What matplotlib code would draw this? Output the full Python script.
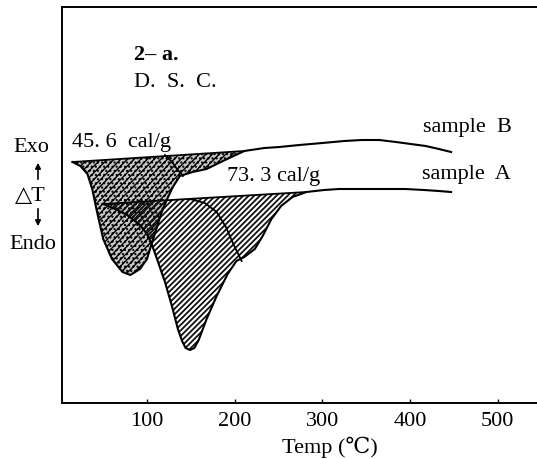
import matplotlib
matplotlib.use("Agg")
import matplotlib.pyplot as plt
import numpy as np

plt.rcParams['font.family'] = ['Liberation Serif', 'DejaVu Serif', 'DejaVu Sans', 'Noto Sans CJK JP']

# ---- data (temperature in degC, signal in arbitrary units, Exo up) ----
tB = [15, 24, 32, 37.5, 43, 50, 60, 72, 81, 92, 100, 104.5, 110, 116, 123, 129.5, 137.5,
      152, 168, 189, 211, 234, 251, 274, 300, 325, 345, 365, 384, 401, 418, 433, 447]
yB = [241, 237, 229, 214, 191, 164, 144, 131, 128, 134, 144, 157, 172, 189, 204, 216, 227,
      231, 234, 243, 252, 255, 256, 258, 260, 262, 263, 263, 261, 259, 257, 254, 251]
peakB_end = 20   # index where endotherm of sample B returns to baseline

tA = [50, 63.6, 77.3, 92, 100, 105.7, 111.4, 120.5, 128.4, 135.2, 140, 144, 149, 154, 159, 168, 179.5,
      192, 202, 211, 223, 232, 242, 253, 266, 282, 302, 319, 353, 395, 416, 433, 447]
yA = [199, 194, 188, 178, 169, 158, 144, 121, 97, 74, 62, 55, 53, 55, 63, 84, 107,
      129, 142, 146, 154, 167, 184, 197, 206, 211, 213, 214, 214, 214, 213, 212, 211]
peakA_end = 25

# component (deconvolution) boundaries
tB_comp = [120.5, 128.4, 135.2, 141]
yB_comp = [248, 241, 233, 227]
tA_comp = [149, 166, 179.5, 190, 199, 208]
yA_comp = [204, 200, 191, 176, 158, 142]

xticks = [100, 200, 300, 400, 500]
heatB = "45. 6  cal/g"
heatA = "73. 3 cal/g"

W, H = 537, 460
fig = plt.figure(figsize=(W / 100, H / 100), dpi=100)
ax = fig.add_axes([62 / W, (H - 404) / H, 1 - 62 / W, (404 - 8) / H])
ax.set_xlim(3, 545)
ax.set_ylim(0, 396)

tB = np.array(tB); yB = np.array(yB)
tA = np.array(tA); yA = np.array(yA)

# sample B peak area
tb = tB[:peakB_end + 1]; yb = yB[:peakB_end + 1]
baseB = np.interp(tb, [tb[0], tb[-1]], [yb[0], yb[-1]])
with plt.rc_context({'hatch.linewidth': 1.0}):
    ax.fill_between(tb, yb, baseB, facecolor='#c8c8c8', edgecolor='black', hatch='/////....', lw=0)
ax.plot([tb[0], tb[-1]], [yb[0], yb[-1]], color='black', lw=1.3)

# sample A peak area
ta = tA[:peakA_end + 1]; ya = yA[:peakA_end + 1]
baseA = np.interp(ta, [ta[0], ta[-1]], [ya[0], ya[-1]])
with plt.rc_context({'hatch.linewidth': 1.3}):
    ax.fill_between(ta, ya, baseA, facecolor='none', edgecolor='#111111', hatch='//////', lw=0)
ax.plot([ta[0], ta[-1]], [ya[0], ya[-1]], color='black', lw=1.3)

ax.plot(tB, yB, color='black', lw=1.5)
ax.plot(tA, yA, color='black', lw=1.5)
ax.plot(tB_comp, yB_comp, color='black', lw=1.3)
ax.plot(tA_comp, yA_comp, color='black', lw=1.3)

# axes styling
for s in ['top', 'left', 'bottom']:
    ax.spines[s].set_linewidth(1.4)
ax.spines['right'].set_visible(False)
ax.set_yticks([])
ax.set_xticks(xticks)
ax.set_xticklabels([str(v) for v in xticks])
ax.tick_params(axis='x', direction='in', length=3, width=1, pad=6, labelsize=16)


def ftext(x, y, s, **kw):
    fig.text(x / W, 1 - y / H, s, **kw)


ftext(134, 55, "2– a.", fontsize=16, fontweight='bold', va='center', ha='left')
ftext(134, 83, "D.  S.  C.", fontsize=16, va='center', ha='left')
ftext(423, 128, "sample  B", fontsize=16, va='center', ha='left')
ftext(422, 174, "sample  A", fontsize=16, va='center', ha='left')
ftext(72, 143, heatB, fontsize=16, va='center', ha='left')
ftext(227, 176, heatA, fontsize=16, va='center', ha='left')
ftext(31, 148, "Exo", fontsize=16, va='center', ha='center')
ftext(30, 197, "△T", fontsize=16, va='center', ha='center')
ftext(33, 245, "Endo", fontsize=16, va='center', ha='center')
ftext(330, 447, "Temp (℃)", fontsize=16, va='center', ha='center')

# Exo / Endo arrows
fig.add_artist(matplotlib.patches.FancyArrowPatch((38 / W, 1 - 183 / H), (38 / W, 1 - 161 / H),
               transform=fig.transFigure, arrowstyle='-|>', mutation_scale=8, lw=1.2, color='black'))
fig.add_artist(matplotlib.patches.FancyArrowPatch((38 / W, 1 - 207 / H), (38 / W, 1 - 230 / H),
               transform=fig.transFigure, arrowstyle='-|>', mutation_scale=8, lw=1.2, color='black'))

fig.savefig("out.png", dpi=100)
